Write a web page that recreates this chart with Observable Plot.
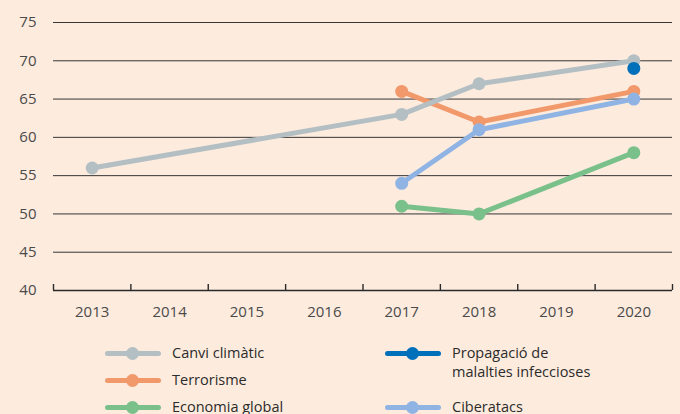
<!DOCTYPE html>
<html>
<head>
<meta charset="utf-8">
<script src="https://cdn.jsdelivr.net/npm/d3@7"></script>
<script src="https://cdn.jsdelivr.net/npm/@observablehq/plot@0.6"></script>
<style>
  html, body { margin: 0; padding: 0; background: #fdebde; }
  body { width: 680px; height: 414px; overflow: hidden; position: relative; font-family: "Open Sans", "Noto Sans", sans-serif; }
  #chart { position: absolute; left: 0; top: 0; }
  .leg { position: absolute; font-size: 14.5px; color: #2b2b2b; line-height: 19px; }
  .sw { position: absolute; width: 56px; height: 5px; border-radius: 3px; }
  .sw::after { content: ""; position: absolute; left: 21px; top: -4px; width: 13px; height: 13px; border-radius: 50%; background: inherit; }
</style>
</head>
<body>
<div id="chart"></div>
<div id="legend"></div>
<script>
// Data
const years = [2013, 2014, 2015, 2016, 2017, 2018, 2019, 2020];
const yTicks = [40, 45, 50, 55, 60, 65, 70, 75];

const seriesNames = ["Canvi climàtic", "Terrorisme", "Economia global", "Propagació de malalties infeccioses", "Ciberatacs"];
const seriesColors = ["#b4bfc4", "#f2996b", "#79c08a", "#0070ba", "#8fb4e3"];

const climaYears = [2013, 2017, 2018, 2020];
const climaValues = [56, 63, 67, 70];
const terrorYears = [2017, 2018, 2020];
const terrorValues = [66, 62, 66];
const economiaYears = [2017, 2018, 2020];
const economiaValues = [51, 50, 58];
const ciberYears = [2017, 2018, 2020];
const ciberValues = [54, 61, 65];
const malaltiesYears = [2020];
const malaltiesValues = [69];

const toRows = (name, ys, vs) => ys.map((y, i) => ({series: name, year: y, value: vs[i]}));
const drawOrder = [
  toRows("Terrorisme", terrorYears, terrorValues),
  toRows("Canvi climàtic", climaYears, climaValues),
  toRows("Economia global", economiaYears, economiaValues),
  toRows("Ciberatacs", ciberYears, ciberValues),
  toRows("Propagació de malalties infeccioses", malaltiesYears, malaltiesValues)
];
const colorOf = name => seriesColors[seriesNames.indexOf(name)];

const boundaries = [...years.map(y => y - 0.5), years[years.length - 1] + 0.5];

const marks = [
  Plot.ruleY(yTicks.slice(1), {stroke: "#363636", strokeWidth: 1}),
  Plot.ruleY([yTicks[0]], {stroke: "#2a2a2a", strokeWidth: 1.6}),
  Plot.axisX({ticks: boundaries, tickSize: 6, dy: -6, tickFormat: () => "", label: null, stroke: "#2a2a2a", strokeWidth: 1.4}),
  Plot.axisX({ticks: years, tickSize: 0, tickPadding: 16, tickFormat: d => String(d), label: null, fontSize: 15, fill: "#4a4a4a"}),
  Plot.axisY({ticks: yTicks, tickSize: 0, tickPadding: 17, label: null, fontSize: 15, fill: "#4a4a4a"})
];
for (const rows of drawOrder) {
  const c = colorOf(rows[0].series);
  if (rows.length > 1) marks.push(Plot.line(rows, {x: "year", y: "value", stroke: c, strokeWidth: 5, strokeLinejoin: "round"}));
  marks.push(Plot.dot(rows, {x: "year", y: "value", fill: c, r: 6.5}));
}

const chart = Plot.plot({
  width: 680,
  height: 335,
  marginTop: 22,
  marginBottom: 45,
  marginLeft: 53,
  marginRight: 8,
  style: {background: "transparent", fontFamily: "'Open Sans', 'Noto Sans', sans-serif"},
  x: {domain: [boundaries[0], boundaries[boundaries.length - 1]], axis: null, label: null},
  y: {domain: [40, 75], axis: null, label: null},
  marks
});
document.getElementById("chart").appendChild(chart);

// Legend (two columns)
const legendItems = [
  {name: "Canvi climàtic", col: 0, top: 343},
  {name: "Terrorisme", col: 0, top: 370},
  {name: "Economia global", col: 0, top: 397},
  {name: "Propagació de malalties infeccioses", col: 1, top: 343, html: "Propagació de<br>malalties infeccioses"},
  {name: "Ciberatacs", col: 1, top: 397}
];
const legend = document.getElementById("legend");
for (const it of legendItems) {
  const swX = it.col === 0 ? 105 : 385;
  const txX = it.col === 0 ? 172 : 452;
  const sw = document.createElement("div");
  sw.className = "sw";
  sw.style.left = swX + "px";
  sw.style.top = (it.top + 8) + "px";
  sw.style.background = colorOf(it.name);
  legend.appendChild(sw);
  const t = document.createElement("div");
  t.className = "leg";
  t.style.left = txX + "px";
  t.style.top = it.top + "px";
  if (it.html) t.innerHTML = it.html; else t.textContent = it.name;
  legend.appendChild(t);
}
</script>
</body>
</html>
